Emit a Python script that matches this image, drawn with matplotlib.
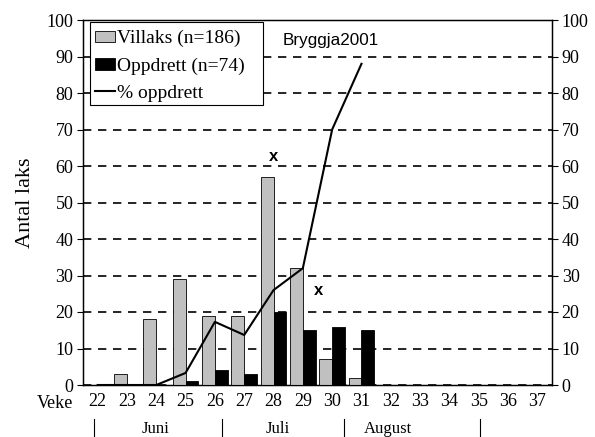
import numpy as np
import matplotlib
matplotlib.use("Agg")
import matplotlib.pyplot as plt
from matplotlib.patches import Rectangle

weeks = list(range(22, 38))
villaks = [0, 3, 18, 29, 19, 19, 57, 32, 7, 2, 0, 0, 0, 0, 0, 0]
oppdrett = [0, 0, 0, 1, 4, 3, 20, 15, 16, 15, 0, 0, 0, 0, 0, 0]
pct_weeks = [22, 23, 24, 25, 26, 27, 28, 29, 30, 31]
pct_oppdrett = [0, 0, 0, 3.3, 17.3, 13.7, 26, 32, 70, 88]
months = ["Juni", "Juli", "August"]
month_pos = [23.96, 28.15, 31.9]
month_sep = [21.875, 26.24, 30.4, 35.05]

serif = ["Liberation Serif", "DejaVu Serif"]
sans = ["Liberation Sans", "DejaVu Sans"]
W, H = 595, 437

fig = plt.figure(figsize=(5.95, 4.37), dpi=100)
ax = fig.add_axes([83 / W, 1 - 385 / H, 469 / W, 365 / H])
x = np.array(weeks)
w = 0.44
b1 = ax.bar(x - w / 2, villaks, w, color="#c0c0c0", edgecolor="black", linewidth=0.6,
            label="Villaks (n=186)", zorder=3)
b2 = ax.bar(x + w / 2, oppdrett, w, color="black", edgecolor="black", linewidth=0.6,
            label="Oppdrett (n=74)", zorder=3)
ln, = ax.plot(pct_weeks, pct_oppdrett, color="black", lw=1.5, label="% oppdrett", zorder=4)

ax.set_xlim(21.5, 37.5)
ax.set_ylim(0, 100)
ax.set_yticks(range(0, 101, 10))
ax.set_xticks(weeks)
ax.tick_params(axis="x", length=0, pad=6)
ax.tick_params(axis="y", direction="out", length=4, pad=3)
for lab in ax.get_xticklabels() + ax.get_yticklabels():
    lab.set_family(serif)
    lab.set_fontsize(13)
ax.yaxis.grid(True, linestyle=(0, (5, 4)), color="black", lw=1.2, zorder=0)
for s in ax.spines.values():
    s.set_linewidth(1.0)

ax2 = ax.twinx()
ax2.set_ylim(0, 100)
ax2.set_yticks(range(0, 101, 10))
ax2.tick_params(axis="y", direction="out", length=4, pad=3)
for lab in ax2.get_yticklabels():
    lab.set_family(serif)
    lab.set_fontsize(13)

ax.set_ylabel("Antal laks", family=serif, fontsize=16, labelpad=8)

ax.text(28, 62.5, "x", ha="center", va="center", family=sans, fontsize=12,
        fontweight="bold", zorder=5)
ax.text(29.55, 26, "x", ha="center", va="center", family=sans, fontsize=12,
        fontweight="bold", zorder=5)
ax.text(29.96, 94.5, "Bryggja2001", ha="center", va="center", family=sans, fontsize=12.3,
        bbox=dict(facecolor="white", edgecolor="none", pad=1), zorder=5)

# legend frame drawn separately (wider on the right, like the original)
frame = Rectangle((90 / W, 1 - 105 / H), (263 - 90) / W, (105 - 22) / H,
                  transform=fig.transFigure, facecolor="white", edgecolor="black",
                  linewidth=0.8, zorder=6)
ax2.add_patch(frame)
leg = ax2.legend(handles=[b1, b2, ln], loc="upper left",
                 bbox_to_anchor=(95 / W, 1 - 30 / H), bbox_transform=fig.transFigure,
                 prop={"family": serif, "size": 14}, frameon=False,
                 handlelength=1.03, handleheight=0.55, handletextpad=0.1,
                 borderpad=0, labelspacing=0.52, borderaxespad=0)
leg.set_zorder(7)

trans = ax.get_xaxis_transform()
ax.text(21.15, -(403 - 385) / 365, "Veke", transform=trans, ha="right", va="center",
        family=serif, fontsize=13, clip_on=False)
for m, p in zip(months, month_pos):
    ax.text(p, -(429 - 385) / 365, m, transform=trans, ha="center", va="center",
            family=serif, fontsize=12, clip_on=False)
for s in month_sep:
    ax.plot([s, s], [-(419 - 385) / 365, -(437 - 385) / 365], transform=trans,
            color="black", lw=0.8, clip_on=False)

fig.savefig("out.png", dpi=100)
